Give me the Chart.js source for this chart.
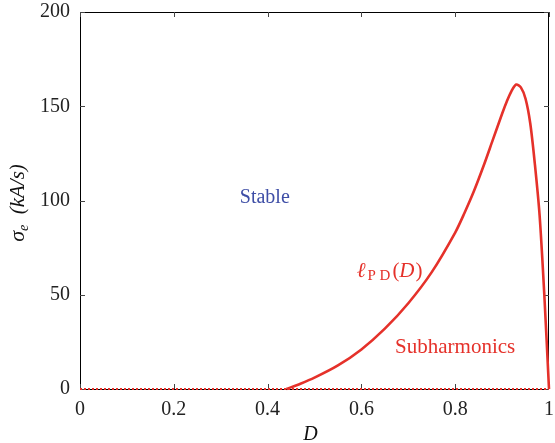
<!DOCTYPE html>
<html>
<head>
<meta charset="utf-8">
<script src="https://cdn.jsdelivr.net/npm/chart.js@4/dist/chart.umd.min.js"></script>
<style>
  html, body { margin: 0; padding: 0; background: #fff; }
  #wrap { width: 555px; height: 443px; }
</style>
</head>
<body>
<div id="wrap"><canvas id="chart" width="555" height="443"></canvas></div>
<script>
// boundary of the period-doubling region
const dutyCycle = [0.44, 0.47, 0.50, 0.55, 0.60, 0.65, 0.70, 0.75, 0.80, 0.82, 0.84, 0.86, 0.88, 0.90, 0.91,  0.92, 0.93,  0.94, 0.95, 0.96, 0.97, 0.98, 0.99, 1.00];
const sigmaPD   = [0,    2.8,  6,    12.5, 21,   32,   45.5, 62,   83,   93.5, 105,  118,  132,  146,  152.5, 158,  161.5, 160,  154,  141,  119,  92,   50,   0];
const zeroLine  = [[0, 0], [1, 0]];
const xTicks = [0, 0.2, 0.4, 0.6, 0.8, 1];
const yTicks = [0, 50, 100, 150, 200];

const RED = '#e5312a';
const BLUE = '#3e4ea6';
const SERIF = '"Liberation Serif", "DejaVu Serif", serif';

// frame + inward tick marks, drawn below the curves
const framePlugin = {
    id: 'frame',
    beforeDatasetsDraw(chart) {
        const { ctx, chartArea: a, scales } = chart;
        ctx.save();
        ctx.strokeStyle = '#000';
        ctx.lineWidth = 1;
        ctx.strokeRect(a.left + 0.5, a.top + 0.5, a.right - a.left - 1, a.bottom - a.top);
        ctx.strokeStyle = '#444';
        ctx.beginPath();
        xTicks.forEach(v => {
            const px = Math.round(scales.x.getPixelForValue(v)) + 0.5;
            ctx.moveTo(px, a.bottom); ctx.lineTo(px, a.bottom - 5);
            ctx.moveTo(px, a.top); ctx.lineTo(px, a.top + 5);
        });
        yTicks.forEach(v => {
            const py = Math.round(scales.y.getPixelForValue(v)) + 0.5;
            ctx.moveTo(a.left, py); ctx.lineTo(a.left + 5, py);
            ctx.moveTo(a.right, py); ctx.lineTo(a.right - 5, py);
        });
        ctx.stroke();
        ctx.restore();
    }
};

// annotations and axis titles (they need sub/superscripts)
const textPlugin = {
    id: 'texts',
    afterDraw(chart) {
        const { ctx, chartArea: a, scales } = chart;
        const X = v => scales.x.getPixelForValue(v);
        const Y = v => scales.y.getPixelForValue(v);
        ctx.save();
        ctx.textBaseline = 'alphabetic';

        ctx.fillStyle = BLUE;
        ctx.font = '20px ' + SERIF;
        ctx.textAlign = 'center';
        ctx.fillText('Stable', X(0.394), Y(98.5));

        ctx.fillStyle = RED;
        ctx.font = '21px ' + SERIF;
        ctx.fillText('Subharmonics', X(0.80), Y(19));

        // ℓ_PD(D)
        ctx.textAlign = 'left';
        let x = X(0.59), y = Y(59.5);
        ctx.font = 'italic 21px ' + SERIF;
        ctx.fillText('ℓ', x, y); x += ctx.measureText('ℓ').width + 2;
        ctx.font = '15px ' + SERIF;
        ctx.fillText('P D', x, y + 3); x += ctx.measureText('P D').width + 2;
        ctx.font = '21px ' + SERIF;
        ctx.fillText('(', x, y); x += ctx.measureText('(').width;
        ctx.font = 'italic 21px ' + SERIF;
        ctx.fillText('D', x, y); x += ctx.measureText('D').width + 1;
        ctx.font = '21px ' + SERIF;
        ctx.fillText(')', x, y);

        // x title
        ctx.fillStyle = '#111';
        ctx.font = 'italic 20px ' + SERIF;
        ctx.textAlign = 'center';
        ctx.fillText('D', (a.left + a.right) / 2 - 4, 440);

        // y title, rotated
        ctx.translate(24, 203);
        ctx.rotate(-Math.PI / 2);
        const parts = [
            ['italic 22px ' + SERIF, 'σ', 0],
            ['italic 14px ' + SERIF, 'e', 4],
            ['italic 21px ' + SERIF, '  (kA/s)', 0]
        ];
        let w = 0;
        parts.forEach(p => { ctx.font = p[0]; w += ctx.measureText(p[1]).width; });
        let cx = -w / 2;
        ctx.textAlign = 'left';
        parts.forEach(p => {
            ctx.font = p[0];
            ctx.fillText(p[1], cx, p[2]);
            cx += ctx.measureText(p[1]).width;
        });
        ctx.restore();
    }
};

new Chart(document.getElementById('chart'), {
    type: 'line',
    data: {
        datasets: [
            {
                data: dutyCycle.map((d, i) => ({ x: d, y: sigmaPD[i] })),
                borderColor: RED,
                borderWidth: 2.6,
                pointRadius: 0,
                tension: 0.3,
                clip: 4
            },
            {
                data: zeroLine.map(p => ({ x: p[0], y: p[1] })),
                borderColor: RED,
                borderWidth: 2,
                borderDash: [2, 2],
                pointRadius: 0,
                clip: 4
            }
        ]
    },
    options: {
        responsive: false,
        animation: false,
        layout: { padding: { top: 12, right: 6, left: 0, bottom: 0 } },
        plugins: { legend: { display: false }, tooltip: { enabled: false } },
        scales: {
            x: {
                type: 'linear',
                min: 0, max: 1,
                grid: { display: false, drawTicks: false },
                border: { display: false },
                afterBuildTicks: s => { s.ticks = xTicks.map(v => ({ value: v })); },
                afterFit: s => { s.height = 54; s.paddingLeft = 0; s.paddingRight = 0; },
                ticks: {
                    padding: 9,
                    color: '#222',
                    font: { family: SERIF, size: 20 },
                    callback: v => String(v)
                }
            },
            y: {
                min: 0, max: 200,
                grid: { display: false, drawTicks: false },
                border: { display: false },
                afterBuildTicks: s => { s.ticks = yTicks.map(v => ({ value: v })); },
                afterFit: s => { s.width = 80; s.paddingTop = 0; s.paddingBottom = 0; },
                ticks: {
                    padding: 10,
                    color: '#222',
                    font: { family: SERIF, size: 20 }
                }
            }
        }
    },
    plugins: [framePlugin, textPlugin]
});
</script>
</body>
</html>
